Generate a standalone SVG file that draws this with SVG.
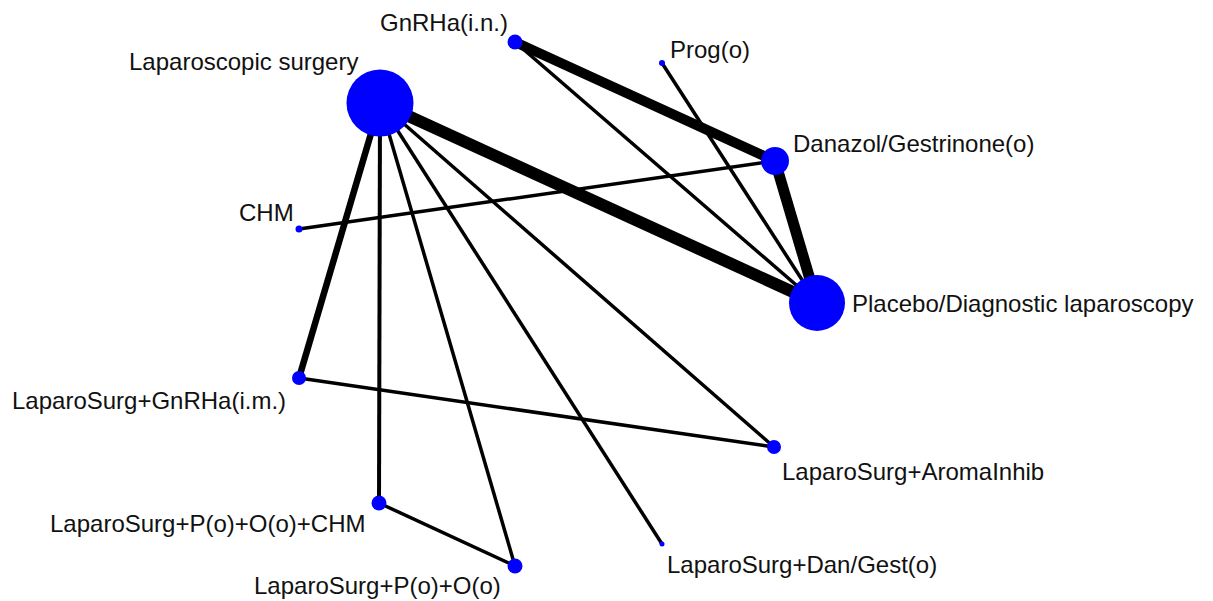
<svg xmlns="http://www.w3.org/2000/svg" width="1213" height="601" viewBox="0 0 1213 601">
<style>
.e{stroke:#000;fill:none}
.n{fill:#0000ff}
text{font-family:"Liberation Sans",Arial,sans-serif;font-size:24px;fill:#111}
</style>
<rect width="1213" height="601" fill="#fff"/>
<g id="edges">
<line class="e" x1="515" y1="42" x2="775" y2="161" stroke-width="10"/>
<line class="e" x1="515" y1="42" x2="817" y2="303" stroke-width="3.5"/>
<line class="e" x1="662" y1="63" x2="817" y2="303" stroke-width="3.5"/>
<line class="e" x1="380" y1="103" x2="817" y2="303" stroke-width="12"/>
<line class="e" x1="775" y1="161" x2="817" y2="303" stroke-width="11"/>
<line class="e" x1="299" y1="229" x2="775" y2="161" stroke-width="3.5"/>
<line class="e" x1="380" y1="103" x2="299" y2="378" stroke-width="6.5"/>
<line class="e" x1="380" y1="103" x2="379" y2="503" stroke-width="4"/>
<line class="e" x1="380" y1="103" x2="515" y2="566" stroke-width="3.5"/>
<line class="e" x1="380" y1="103" x2="662" y2="544" stroke-width="3.5"/>
<line class="e" x1="380" y1="103" x2="774" y2="447" stroke-width="3.5"/>
<line class="e" x1="299" y1="378" x2="774" y2="447" stroke-width="3.5"/>
<line class="e" x1="379" y1="503" x2="515" y2="566" stroke-width="3.5"/>
</g>
<g id="n-lap"><circle class="n" cx="380" cy="103" r="33.5"/><text x="129" y="70">Laparoscopic surgery</text></g>
<g id="n-gnrha-in"><circle class="n" cx="515" cy="42" r="7.5"/><text x="380" y="31">GnRHa(i.n.)</text></g>
<g id="n-prog"><circle class="n" cx="662" cy="63" r="3"/><text x="670" y="58">Prog(o)</text></g>
<g id="n-danazol"><circle class="n" cx="775" cy="161" r="14"/><text x="793" y="152">Danazol/Gestrinone(o)</text></g>
<g id="n-placebo"><circle class="n" cx="817" cy="303" r="28"/><text x="852" y="312">Placebo/Diagnostic laparoscopy</text></g>
<g id="n-chm"><circle class="n" cx="299" cy="229" r="3.5"/><text x="239" y="221">CHM</text></g>
<g id="n-ls-gnrha-im"><circle class="n" cx="299" cy="378" r="7"/><text x="12" y="409">LaparoSurg+GnRHa(i.m.)</text></g>
<g id="n-ls-aroma"><circle class="n" cx="774" cy="447" r="7"/><text x="782" y="480">LaparoSurg+AromaInhib</text></g>
<g id="n-ls-poochm"><circle class="n" cx="379" cy="503" r="7.5"/><text x="50" y="532">LaparoSurg+P(o)+O(o)+CHM</text></g>
<g id="n-ls-poo"><circle class="n" cx="515" cy="566" r="7.5"/><text x="254" y="594">LaparoSurg+P(o)+O(o)</text></g>
<g id="n-ls-dangest"><circle class="n" cx="662" cy="544" r="2.5"/><text x="667" y="573">LaparoSurg+Dan/Gest(o)</text></g>
</svg>
